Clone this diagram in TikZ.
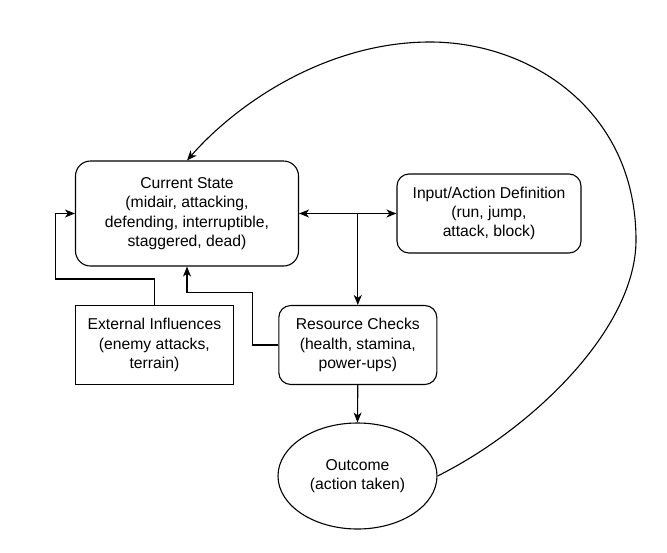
\documentclass[tikz,border=0pt]{standalone}
\usepackage{fontspec}
\setmainfont{Liberation Sans}
\usetikzlibrary{arrows.meta,shapes.geometric}
\begin{document}
\begin{tikzpicture}[x=1pt,y=-1pt,
  every node/.style={font=\fontsize{15.7}{19.4}\selectfont, align=center, inner sep=0pt, text=black},
  conn/.style={line width=1.1pt, -{Stealth[length=10pt,width=8pt,inset=3pt]}},
  biconn/.style={line width=1.1pt, {Stealth[length=10pt,width=8pt,inset=3pt]}-{Stealth[length=10pt,width=8pt,inset=3pt]}}
]
\useasboundingbox (0,0) rectangle (667,552);
\fill[white] (0,0) rectangle (667,552);

\node[draw, line width=1.1pt, rounded corners=15pt, minimum width=223pt, minimum height=105pt] (cur) at (187,213.5)
  {Current State\\(midair, attacking,\\defending, interruptible,\\staggered, dead)};
\node[draw, line width=1.1pt, rounded corners=12pt, minimum width=184pt, minimum height=79pt] (inp) at (489,213.5)
  {Input/Action Definition\\(run, jump,\\attack, block)};
\node[draw, line width=1.1pt, minimum width=158pt, minimum height=79pt] (ext) at (154.4,345)
  {External Influences\\(enemy attacks,\\terrain)};
\node[draw, line width=1.1pt, rounded corners=12pt, minimum width=158pt, minimum height=79pt] (res) at (357.8,345)
  {Resource Checks\\(health, stamina,\\power-ups)};
\node[draw, line width=1.1pt, ellipse, minimum width=159pt, minimum height=106pt] (out) at (357.5,476)
  {Outcome\\(action taken)};

\coordinate (j) at (357.8,213.5);
\coordinate (e1) at (154.4,279);
\coordinate (e2) at (55.7,279);
\coordinate (e3) at (55.7,213.5);
\coordinate (r1) at (252.7,345);
\coordinate (r2) at (252.7,292.7);
\coordinate (r3) at (187,292.7);
\coordinate (cR) at (636,240);
\coordinate (cT) at (430,42);

\draw[biconn] (cur.east) -- (inp.west);
\draw[conn] (j) -- (res.north);
\draw[conn] (ext.north) -- (e1) -- (e2) -- (e3) -- (cur.west);
\draw[conn] (res.west) -- (r1) -- (r2) -- (r3) -- (cur.south);
\draw[conn] (res.south) -- (out.north);
\draw[conn] (out.east) .. controls (530,430) and (636,330) .. (cR)
  .. controls (636,110) and (530,42) .. (cT)
  .. controls (330,42) and (240,100) .. (cur.north);
\end{tikzpicture}
\end{document}
